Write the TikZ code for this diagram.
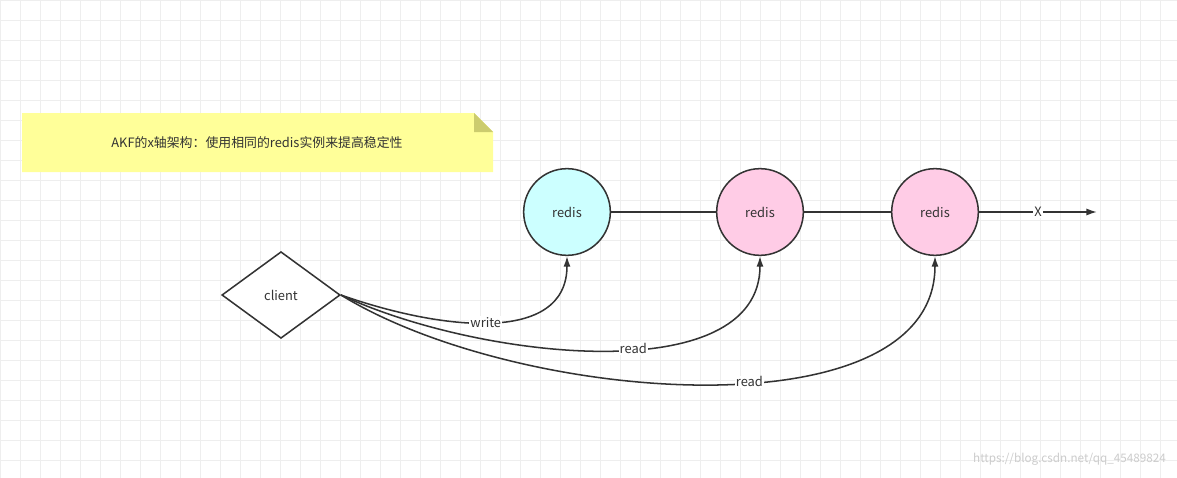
\documentclass[tikz,border=0pt]{standalone}
\usepackage{fontspec}
\setmainfont{Noto Sans CJK SC}
\usetikzlibrary{shapes.geometric,arrows.meta}
\definecolor{gridc}{HTML}{EEEEEE}
\definecolor{linec}{HTML}{333333}
\definecolor{cyanf}{HTML}{CCFFFF}
\definecolor{pinkf}{HTML}{FFCCE6}
\definecolor{notef}{HTML}{FFFF99}
\definecolor{foldf}{HTML}{CCCC6E}
\begin{document}
\begin{tikzpicture}[x=0.03cm,y=-0.03cm,
  rnode/.style={circle,draw=linec,line width=1.3pt,minimum size=2.6cm,font=\fontsize{11}{13}\selectfont,text=linec},
  conn/.style={draw=linec,line width=1.3pt},
  lbl/.style={fill=white,inner sep=1pt,font=\fontsize{11}{13}\selectfont,text=linec}]
\useasboundingbox (0,0) rectangle (1177,478);
\fill[white] (0,0) rectangle (1177,478);
\foreach \x in {0,20,...,1177} \draw[gridc,line width=0.3pt] (\x,0) -- (\x,478);
\foreach \y in {0,20,...,478} \draw[gridc,line width=0.3pt] (0,\y) -- (1177,\y);
% note
\fill[notef] (22,113) -- (474,113) -- (493,132) -- (493,172) -- (22,172) -- cycle;
\fill[foldf] (474,113) -- (493,132) -- (474,132) -- cycle;
\node[font=\fontsize{11}{13}\selectfont,text=linec] (note) at (257,143) {AKF的x轴架构：使用相同的redis实例来提高稳定性};
% redis nodes
\node[rnode,fill=cyanf] (r1) at (567,212) {redis};
\node[rnode,fill=pinkf] (r2) at (760,212) {redis};
\node[rnode,fill=pinkf] (r3) at (935,212) {redis};
\coordinate (xend) at (1097,212);
\draw[conn] (r1) -- (r2);
\draw[conn] (r2) -- (r3);
\draw[conn,-{Latex[length=9pt,width=6pt]}] (r3) -- node[lbl] {X} (xend);
% client
\node[diamond,draw=linec,line width=1.3pt,fill=white,minimum width=3.55cm,minimum height=2.6cm,inner sep=0pt,aspect=1.4,font=\fontsize{11}{13}\selectfont,text=linec] (c) at (281,295) {client};
\draw[conn,-{Latex[length=9pt,width=6pt]}] (c.east) .. controls (440,330) and (567,345) .. node[lbl,pos=0.48] {write} (r1.south);
\draw[conn,-{Latex[length=9pt,width=6pt]}] (c.east) .. controls (480,360) and (760,390) .. node[lbl,pos=0.56] {read} (r2.south);
\draw[conn,-{Latex[length=9pt,width=6pt]}] (c.east) .. controls (520,405) and (935,435) .. node[lbl,pos=0.56] {read} (r3.south);
\node[text=gray!40,font=\fontsize{10}{12}\selectfont,anchor=east] (wm) at (1170,459) {https://blog.csdn.net/qq\_45489824};
\end{tikzpicture}
\end{document}
